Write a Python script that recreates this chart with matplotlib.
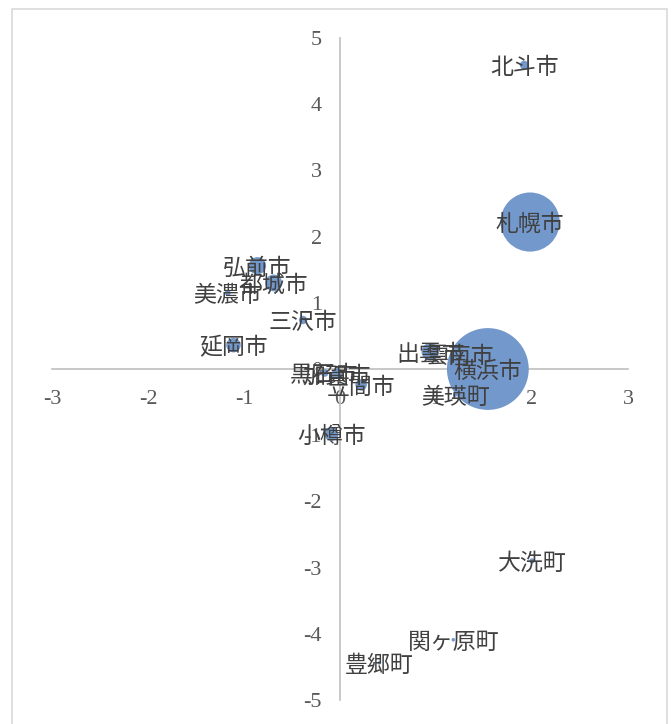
import matplotlib
matplotlib.use("Agg")
import matplotlib.pyplot as plt
from matplotlib.patches import Rectangle

# 市町村名
cities = ['北斗市', '札幌市', '弘前市', '都城市', '美濃市', '三沢市', '延岡市',
          '黒石市', '加賀市', '笠間市', '小樽市', '出雲市', '雲南市', '横浜市',
          '美瑛町', '大洗町', '関ヶ原町', '豊郷町']
# 横軸・縦軸の値
x_vals = [1.92, 1.98, -0.86, -0.69, -1.17, -0.385, -1.11,
          -0.16, -0.03, 0.22, -0.09, 0.94, 1.25, 1.54,
          1.20, 2.00, 1.18, 0.41]
y_vals = [4.59, 2.22, 1.56, 1.30, 1.15, 0.74, 0.36,
          -0.06, -0.07, -0.24, -0.98, 0.26, 0.23, 0.00,
          -0.39, -2.90, -4.09, -4.44]
# バブルの大きさ (人口, 万人)
population = [4.4, 197, 16.8, 16.0, 2.0, 3.9, 11.8,
              3.3, 6.5, 7.4, 11.1, 17.1, 3.7, 377,
              1.0, 1.6, 0.7, 0.7]

x_ticks = [-3, -2, -1, 0, 1, 2, 3]
y_ticks = [-5, -4, -3, -2, -1, 0, 1, 2, 3, 4, 5]

plt.rcParams['axes.unicode_minus'] = False

fig = plt.figure(figsize=(6.72, 7.24), dpi=100)
# 外枠
fig.patches.append(Rectangle((12 / 672, -0.02), 655 / 672, 1.02 - 9 / 724,
                             transform=fig.transFigure, fill=False,
                             edgecolor='#D9D9D9', linewidth=1.2))

ax = fig.add_axes([52 / 672, 1 - 700 / 724, 576 / 672, 662 / 724])
ax.set_xlim(-3, 3)
ax.set_ylim(-5, 5)

sizes = [p * 9.2 for p in population]
ax.scatter(x_vals, y_vals, s=sizes, color='#7398CB', edgecolors='none', zorder=3)

for name, x, y in zip(cities, x_vals, y_vals):
    ax.text(x, y, name, ha='center', va='center_baseline', fontsize=16.5,
            color='#404040', family=['Noto Sans CJK JP', 'DejaVu Sans'], zorder=5)

# 軸を原点で交差させる
ax.spines['left'].set_position('zero')
ax.spines['bottom'].set_position('zero')
ax.spines['right'].set_visible(False)
ax.spines['top'].set_visible(False)
for s in ['left', 'bottom']:
    ax.spines[s].set_color('#BFBFBF')
    ax.spines[s].set_linewidth(1.2)

ax.set_xticks(x_ticks)
ax.set_yticks(y_ticks)
ax.set_xticklabels([str(t) for t in x_ticks])
ax.set_yticklabels([str(t) for t in y_ticks])
ax.tick_params(axis='x', length=0, pad=15, labelsize=16, labelcolor='#595959')
ax.tick_params(axis='y', length=0, pad=13, labelsize=16, labelcolor='#595959')
for lab in ax.get_xticklabels() + ax.get_yticklabels():
    lab.set_family('Liberation Serif')

fig.savefig('out.png', dpi=100)
